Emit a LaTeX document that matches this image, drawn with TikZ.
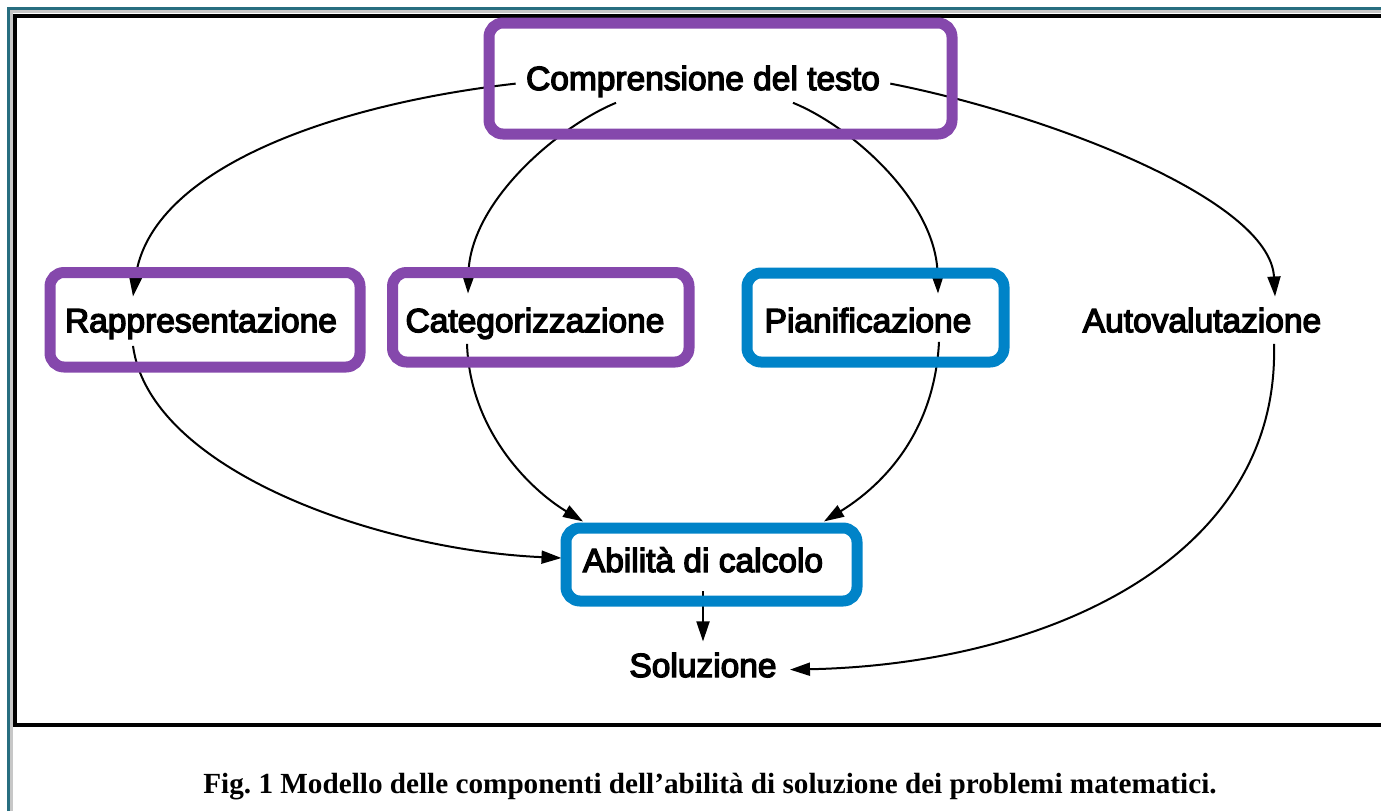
\documentclass[tikz,border=0pt]{standalone}
\usepackage{fontspec}
\usetikzlibrary{arrows.meta, fit, calc}
\newfontfamily\lblfont{Liberation Sans}[FakeBold=4]
\newfontfamily\capfont{Liberation Serif}
\definecolor{hlpurple}{RGB}{133,72,172}
\definecolor{hlblue}{RGB}{0,131,200}
\definecolor{frameteal}{RGB}{40,110,128}

\begin{document}
\begin{tikzpicture}[x=0.5pt, y=-0.5pt]
	\tikzstyle{lbl}=[
	font=\lblfont\fontsize{16.75}{20}\selectfont,
	inner sep=5pt,
	text height=12.6pt,
	text depth=4.2pt
	]
	\tikzstyle{flow}=[
	-{Triangle[length=10pt,width=6.5pt]},
	line width=1pt
	]
	\tikzstyle{hlbox}=[
	rectangle,
	rounded corners=7pt,
	line width=5.5pt,
	inner sep=0pt
	]
	\useasboundingbox (0,0) rectangle (1381,811);
	%
	\draw[frameteal, line width=1.5pt] (8,811) -- (8,8) -- (1381,8);
	\draw[black!22, line width=1.5pt] (11.5,811) -- (11.5,11.5) -- (1381,11.5);
	\draw[black, line width=2pt] (1381,16) -- (15,16) -- (15,725) -- (1381,725);
	%
	\node[lbl] (cmp) at (703,81.6) {Comprensione del testo};
	\node[lbl] (rep) at (201,323.7) {Rappresentazione};
	\node[lbl] (cat) at (535,323.7) {Categorizzazione};
	\node[lbl] (pia) at (868,323.7) {Pianificazione};
	\node[lbl] (aut) at (1202,323.7) {Autovalutazione};
	\node[lbl] (abi) at (703,563.6) {Abilità di calcolo};
	\node[lbl] (sol) at (703,668.6) {Soluzione};
	%
	\draw[flow] ($(cmp.west)+(0,2)$) .. controls +(-185,21) and +(17,-127) .. ($(rep.north)+(-68,0)$);
	\draw[flow] ($(cmp.south)+(-87,-6)$) .. controls +(-56,23) and +(2,-93) .. ($(cat.north)+(-67,-3)$);
	\draw[flow] ($(cmp.south)+(90,-6)$) .. controls +(57,23) and +(-2,-93) .. ($(pia.north)+(70,-3)$);
	\draw[flow] ($(cmp.east)+(0,2)$) .. controls +(158,31) and +(-5,-97) .. ($(aut.north)+(73,0)$);
	\draw[flow] ($(rep.south)+(-68,-5)$) .. controls +(17,125) and +(-182,-8) .. ($(abi.west)+(-11,-5.6)$);
	\draw[flow] ($(cat.south)+(-68,-7)$) .. controls +(3,87) and +(-53,-32) .. ($(abi.north)+(-120,-15)$);
	\draw[flow] ($(pia.south)+(71,-9)$) .. controls +(-5,97) and +(52,-32) .. ($(abi.north)+(121,-15)$);
	\draw[flow] ($(aut.south)+(72,-7)$) .. controls +(6,217) and +(253,-5) .. ($(sol.east)+(3,1)$);
	\draw[flow] (abi.south) -- (sol.north);
	%
	\node[hlbox, draw=hlpurple, fit={(489,23) (952,134)}] (cmpbox) {};
	\node[hlbox, draw=hlpurple, fit={(50,272.5) (360,367)}] (repbox) {};
	\node[hlbox, draw=hlpurple, fit={(392.5,272.5) (689,362)}] (catbox) {};
	\node[hlbox, draw=hlblue, fit={(747,273) (1004,362)}] (piabox) {};
	\node[hlbox, draw=hlblue, fit={(566,528) (857,601)}] (abibox) {};
	%
	\node[font=\capfont\bfseries\fontsize{14.6}{17}\selectfont, anchor=base] (cap) at (710,793) {Fig.\ 1 Modello delle componenti dell’abilità di soluzione dei problemi matematici.};
\end{tikzpicture}
\end{document}
